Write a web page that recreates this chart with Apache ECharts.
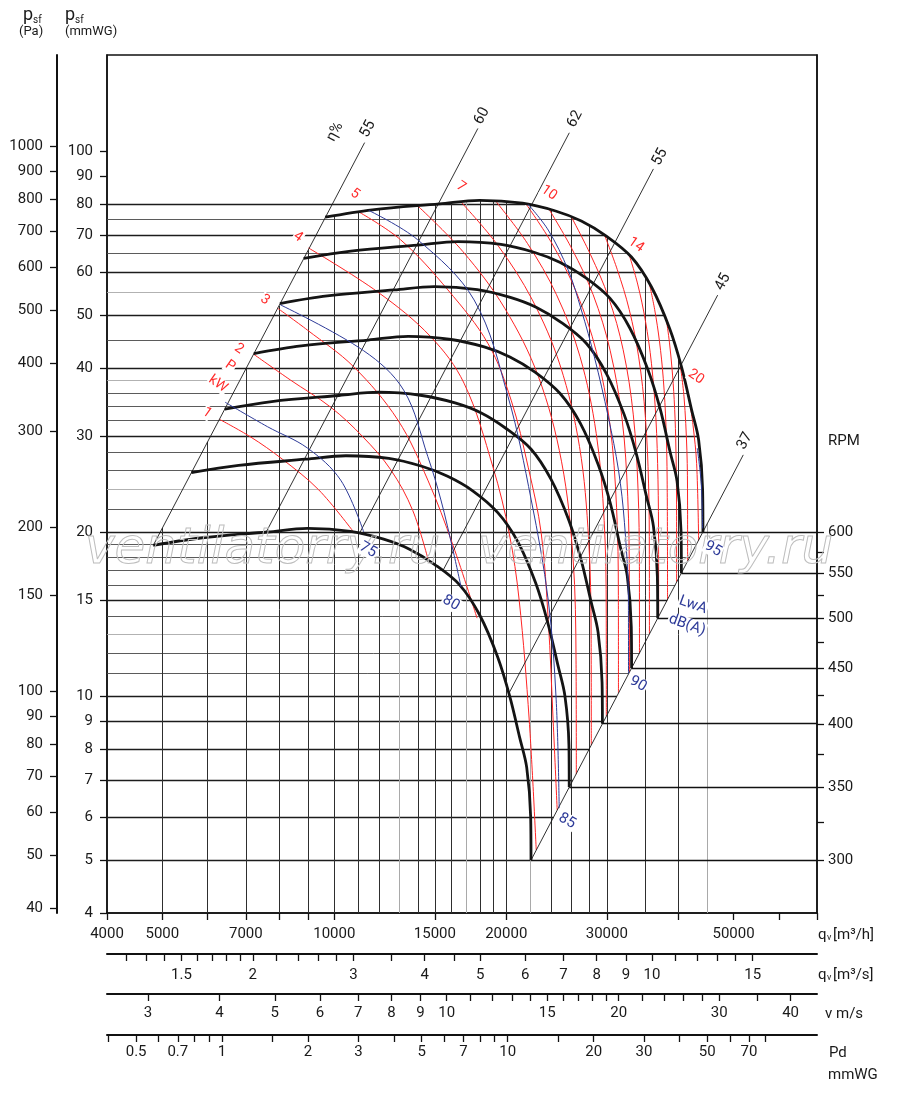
<!DOCTYPE html>
<html>
<head>
<meta charset="utf-8">
<title>Fan curve</title>
<script src="https://cdn.jsdelivr.net/npm/echarts/dist/echarts.min.js"></script>
<style>
  html, body { margin: 0; padding: 0; background: #fff; }
  #chart { width: 900px; height: 1093px; }
</style>
</head>
<body>
<div id="chart"></div>
<script>
// flow qv in m3/h, static pressure psf in mmWG
const rpmLevels = [300, 350, 400, 450, 500, 550, 600];

const curve300 = [[4820,18.9],[5830,19.5],[7640,20.0],[8980,20.3],[10680,20.05],[12200,19.4],[13540,18.6],[14970,17.45],[16570,16.0],[17960,14.1],[19320,11.8],[20280,10.0],[21110,8.4],[21720,7.4],[22070,6.0],[22100,5.0]];
const curve350 = [[5620,25.7],[6800,26.5],[8910,27.2],[10480,27.6],[12460,27.3],[14230,26.4],[15790,25.3],[17470,23.8],[19330,21.7],[20950,19.2],[22530,16.1],[23660,13.6],[24630,11.4],[25340,10.0],[25750,8.13],[25780,6.81]];
const curve400 = [[6430,33.6],[7770,34.7],[10190,35.6],[11970,36.1],[14240,35.6],[16270,34.5],[18050,33.1],[19960,31.0],[22090,28.4],[23950,25.0],[25750,21.0],[27040,17.8],[28150,14.9],[28960,13.1],[29430,10.6],[29470,8.9]];
const curve450 = [[7230,42.5],[8750,43.9],[11460,45.0],[13470,45.7],[16020,45.1],[18300,43.7],[20300,41.9],[22460,39.3],[24850,35.9],[26940,31.7],[28970,26.6],[30420,22.6],[31670,18.8],[32580,16.6],[33110,13.4],[33150,11.25]];
const curve500 = [[8030,52.5],[9720,54.2],[12730,55.6],[14970,56.4],[17800,55.7],[20330,53.9],[22560,51.7],[24950,48.5],[27610,44.4],[29930,39.1],[32190,32.8],[33800,27.8],[35180,23.3],[36200,20.5],[36780,16.6],[36830,13.9]];
const curve550 = [[8840,63.5],[10690,65.5],[14010,67.2],[16460,68.2],[19580,67.4],[22370,65.2],[24810,62.5],[27450,58.7],[30370,53.7],[32930,47.3],[35410,39.7],[37180,33.7],[38700,28.1],[39820,24.8],[40460,20.1],[40520,16.8]];
const curve600 = [[9640,75.6],[11660,78.0],[15280,80.0],[17960,81.2],[21360,80.2],[24400,77.6],[27070,74.4],[29940,69.8],[33130,63.9],[35920,56.3],[38630,47.3],[40560,40.1],[42220,33.5],[43440,29.5],[44140,23.9],[44200,20.0]];
const fanCurves = [curve300, curve350, curve400, curve450, curve500, curve550, curve600];

// efficiency lines (eta %)
const effValues = [55, 60, 62, 55, 45, 37];
const eff55a = [[4820,18.9],[11300,103.6]];
const eff60 = [[7600,20.0],[17840,110]];
const eff62 = [[11100,20.0],[25790,108]];
const eff55b = [[15500,17.0],[36200,92.7]];
const eff45 = [[20200,10.1],[46900,54.4]];
const eff37 = [[22100,5.0],[52000,27.7]];
const effLines = [eff55a, eff60, eff62, eff55b, eff45, eff37];

// absorbed power lines (kW)
const power1 = [[6290,32.2],[7130,29.9],[8110,27.2],[9390,23.9],[10770,20.1]];
const power2 = [[7220,42.4],[8380,38.0],[9850,33.9],[11220,29.9],[12560,26.0],[13720,21.9],[14640,17.6]];
const power3 = [[7950,51.5],[8980,46.9],[10810,40.2],[12920,32.1],[14580,24.9],[16140,18.9],[17780,13.9]];
const power4 = [[9010,66.4],[11920,55.1],[14760,45.6],[16870,37.5],[18960,26.3],[20240,19.9],[21070,15.0],[21940,9.04],[22570,5.22]];
const power5 = [[11040,77.3],[13070,68.7],[15810,55.6],[18590,44.3],[20400,34.9],[21850,26.3],[23030,19.9],[23690,13.8],[24160,9.04],[24560,6.18]];
const power6 = [[14000,79.3],[16790,65.4],[19870,51.5],[22760,38.6],[25000,26.9],[26180,17.9],[26500,11.6],[26530,7.19]];
const power7 = [[16670,80.6],[19340,67.1],[22220,53.3],[24840,40.5],[26870,28.7],[27880,19.4],[28160,12.9],[28180,8.13]];
const power8 = [[19190,80.8],[21780,67.7],[24490,54.5],[26920,42.0],[28750,30.3],[29680,21.0],[29930,14.2],[29940,9.19]];
const power9 = [[21670,79.9],[24080,67.5],[26570,54.9],[28750,42.9],[30380,31.5],[31200,22.2],[31430,15.3],[31440,10.13]];
const power10 = [[23780,78.1],[26070,66.1],[28390,54.5],[30400,43.1],[31910,32.2],[32640,23.2],[32850,16.3],[32860,11.07]];
const power11 = [[26000,75.7],[28100,64.5],[30220,53.8],[32040,43.2],[33380,32.8],[34020,24.0],[34210,17.3],[34220,12.0]];
const power12 = [[29710,70.2],[31290,60.6],[32830,51.2],[34110,41.9],[35040,32.6],[35500,24.5],[35610,18.2],[35620,13.0]];
const power13 = [[32860,64.3],[33970,57.0],[35040,48.9],[35920,40.7],[36560,32.4],[36870,25.0],[36960,19.0],[36970,14.0]];
const power14 = [[35630,57.0],[36380,51.2],[37090,44.8],[37670,38.2],[38080,31.3],[38260,24.9],[38320,15.0]];
const power15 = [[38170,48.8],[38610,44.6],[39010,40.0],[39360,35.0],[39600,29.7],[39740,22.5],[39750,16.2]];
const power16 = [[40230,41.3],[40950,35.4],[41430,28.2],[41540,22.8],[41550,17.7]];
const power17 = [[41890,34.7],[42480,31.3],[43090,26.7],[43440,19.3]];
const powerCurves = [power1, power2, power3, power4, power5, power6, power7, power8, power9,
  power10, power11, power12, power13, power14, power15, power16, power17];

// sound power LwA dB(A)
const lwa75 = [[6440,34.6],[7640,31.2],[8980,28.5],[10260,24.9],[11260,20.0]];
const lwa80 = [[8050,52.2],[11260,43.0],[13230,36.4],[14580,27.5],[15370,22.9],[16140,18.5],[16670,15.85]];
const lwa85 = [[11490,77.8],[14000,68.7],[17570,53.3],[20150,35.4],[22120,22.9],[23690,15.0],[24460,9.84],[24760,6.23]];
const lwa90 = [[21850,79.8],[23690,71.6],[25670,60.5],[27070,51.1],[28530,41.9],[30180,32.5],[31440,26.0],[32210,20.8],[32730,15.0],[32740,11.0]];
const lwa95 = [[43200,28.5],[43900,24.5],[44120,20.3]];
const lwaCurves = [lwa75, lwa80, lwa85, lwa90, lwa95];

// grid and scales
const hGrid = [5,6,7,8,9,10,11,12,13,14,15,16,17,18,19,20,22,24,26,28,30,32,34,36,38,40,45,50,55,60,65,70,75,80];
const hMajor = [5,6,7,8,9,10,15,20,30,40,50,60,70,80];
const hLight = [13,24,38,55];
const vGrid = [5000,6000,7000,8000,9000,10000,11000,12000,13000,14000,15000,16000,17000,18000,19000,20000,22000,24000,26000,28000,30000,35000,40000,45000];
const vLight = [13000,17000,22000,45000];

const qTicks = [4000,5000,6000,7000,8000,9000,10000,15000,20000,30000,40000,50000,60000,70000];
const qLabels = [4000,5000,7000,10000,15000,20000,30000,50000];
const qsTicks = [1.2,1.3,1.4,1.5,1.6,1.7,1.8,1.9,2,2.2,2.4,2.6,2.8,3,3.5,4,4.5,5,6,7,8,9,10,11,12,13,14,15];
const qsLabels = [1.5,2,3,4,5,6,7,8,9,10,15];
const vTicks = [3,4,5,6,7,8,9,10,11,12,13,14,15,16,17,18,19,20,22,24,26,28,30,35,40];
const vLabels = [3,4,5,6,7,8,9,10,15,20,30,40];
const pdTicks = [0.4,0.5,0.6,0.7,0.8,0.9,1,1.5,2,3,4,5,6,7,8,9,10,15,20,30,40,50,60,70,80];
const pdLabels = [0.5,0.7,1,2,3,5,7,10,20,30,50,70];
const mmTicks = [4,5,6,7,8,9,10,15,20,30,40,50,60,70,80,90,100];
const paTicks = [40,50,60,70,80,90,100,150,200,300,400,500,600,700,800,900,1000];
const rpmTicks = [300,325,350,375,400,425,450,475,500,525,550,575,600];
const rpmLabels = [300,350,400,450,500,550,600];

const qMin = 4000, qMax = 70000, pMin = 4, pMax = 150;
const outletArea = 0.437;          // m2, ties v to qv
const toPa = 9.80665;
const L = Math.log10;
const pts = arr => arr.map(d => [L(d[0]), L(d[1])]);
const last = arr => arr[arr.length - 1];
const vAt = q => q / 3600 / outletArea;
const pdAt = q => 1.2 * vAt(q) * vAt(q) / (2 * 9.81);
const rpmAt = p => rpmLevels[0] * Math.sqrt(p / last(curve300)[1]);
const fmt = v => String(parseFloat(Math.pow(10, v).toPrecision(4)));

function logInterp(x, x0, y0, x1, y1) {
  const t = (L(x) - L(x0)) / (L(x1) - L(x0));
  return Math.pow(10, L(y0) + t * (L(y1) - L(y0)));
}
function pOnCurve(c, q) {
  for (let i = 0; i < c.length - 1; i++) {
    if (q >= c[i][0] && q <= c[i + 1][0]) return logInterp(q, c[i][0], c[i][1], c[i + 1][0], c[i + 1][1]);
  }
  return null;
}
function qOnFalling(c, p) {
  let k = 0;
  c.forEach((d, i) => { if (d[1] > c[k][1]) k = i; });
  for (let i = k; i < c.length - 1; i++) {
    if (p <= c[i][1] && p >= c[i + 1][1]) return logInterp(p, c[i][1], c[i][0], c[i + 1][1], c[i + 1][0]);
  }
  return null;
}
const lineQ = (ln, p) => logInterp(p, ln[0][1], ln[0][0], ln[1][1], ln[1][0]);
const lineP = (ln, q) => logInterp(q, ln[0][0], ln[0][1], ln[1][0], ln[1][1]);

// grid lines stop at the operating envelope
const segs = [];
hGrid.forEach(p => {
  const qr = p >= last(curve600)[1] ? qOnFalling(curve600, p) : lineQ(eff37, p);
  if (!qr) return;
  const st = hLight.includes(p) ? { color: '#a9a9a9', width: 0.9 }
    : hMajor.includes(p) ? { color: '#1c1c1c', width: 1.3 } : { color: '#484848', width: 0.9 };
  segs.push({ coords: [[L(qMin), L(p)], [L(qr), L(p)]], lineStyle: st });
});
vGrid.forEach(q => {
  let pt;
  if (q < curve600[0][0]) pt = lineP(eff55a, q);
  else if (q <= last(curve600)[0]) pt = pOnCurve(curve600, q);
  else pt = lineP(eff37, q);
  const st = vLight.includes(q) ? { color: '#a9a9a9', width: 1 } : { color: '#2e2e2e', width: 1 };
  segs.push({ coords: [[L(q), L(pMin)], [L(q), L(pt)]], lineStyle: st });
});
fanCurves.forEach(c => {
  const e = last(c);
  segs.push({ coords: [[L(e[0]), L(e[1])], [L(qMax), L(e[1])]], lineStyle: { color: '#111', width: 1.3 } });
});

const series = [{
  type: 'lines', coordinateSystem: 'cartesian2d', polyline: false, silent: true, z: 1,
  lineStyle: { opacity: 1, color: '#333', width: 1 }, data: segs
}];
effLines.forEach(e => series.push({
  type: 'line', data: pts(e), symbol: 'none', silent: true, z: 3,
  lineStyle: { color: '#1a1a1a', width: 0.9 }
}));
powerCurves.forEach(c => series.push({
  type: 'line', data: pts(c), symbol: 'none', silent: true, smooth: 0.35, z: 2,
  lineStyle: { color: '#ff2424', width: 1 }
}));
lwaCurves.forEach(c => series.push({
  type: 'line', data: pts(c), symbol: 'none', silent: true, smooth: 0.35, z: 6,
  lineStyle: { color: '#2d3a98', width: 1 }
}));
fanCurves.forEach(c => series.push({
  type: 'line', data: pts(c), symbol: 'none', silent: true, smooth: 0.35, z: 5,
  lineStyle: { color: '#141414', width: 2.8 }
}));

function xAxisOf(offset, min, max, ticks, labels, margin) {
  return {
    type: 'value', gridIndex: 0, position: 'bottom', offset, min, max,
    axisLine: { show: true, onZero: false, lineStyle: { color: '#111', width: offset ? 2 : 1.5 } },
    axisTick: { show: true, inside: false, length: 7, customValues: ticks.map(L), lineStyle: { color: '#111', width: 1.3 } },
    axisLabel: { show: true, customValues: labels.map(L), formatter: fmt, margin, color: '#1a1a1a', fontSize: 15, fontFamily: 'Roboto' },
    splitLine: { show: false }
  };
}
function yAxisOf(position, offset, min, max, ticks, labels, margin) {
  return {
    type: 'value', gridIndex: 0, position, offset, min, max,
    axisLine: { show: true, onZero: false, lineStyle: { color: '#111', width: offset ? 2 : 1.5 } },
    axisTick: { show: true, inside: false, length: 7, customValues: ticks.map(L), lineStyle: { color: '#111', width: 1.3 } },
    axisLabel: { show: true, customValues: labels.map(L), formatter: fmt, margin, color: '#1a1a1a', fontSize: 15, fontFamily: 'Roboto' },
    splitLine: { show: false }
  };
}

function txt(x, y, text, o) {
  o = o || {};
  const style = {
    text, fill: o.color || '#1a1a1a', font: o.font || '15px Roboto',
    align: o.align || 'center', verticalAlign: 'middle'
  };
  if (o.bg) { style.backgroundColor = o.bg; style.padding = [0, 1]; }
  if (o.stroke) { style.stroke = o.stroke; style.lineWidth = 1; }
  return { type: 'text', x, y, z: o.z || 100, silent: true, rotation: (o.rot || 0) * Math.PI / 180, style };
}

const red = '#ff2a2a', blue = '#2d3a98';
const graphic = [
  // watermark
  txt(85, 550, 'ventilatorry.ru', { font: 'italic 50px "DejaVu Sans"', color: 'rgba(255,255,255,0)', stroke: '#bdbdbd', align: 'left', z: 60 }),
  txt(478, 550, 'ventilatorry.ru', { font: 'italic 50px "DejaVu Sans"', color: 'rgba(255,255,255,0)', stroke: '#bdbdbd', align: 'left', z: 60 }),
  // headers
  txt(23, 15, 'p', { font: '18px Roboto', align: 'left' }),
  txt(33, 20, 'sf', { font: '10px Roboto', align: 'left' }),
  txt(19, 32, '(Pa)', { font: '13px Roboto', align: 'left' }),
  txt(65, 15, 'p', { font: '18px Roboto', align: 'left' }),
  txt(75, 20, 'sf', { font: '10px Roboto', align: 'left' }),
  txt(65, 32, '(mmWG)', { font: '13px Roboto', align: 'left' }),
  txt(828, 441, 'RPM', { align: 'left' }),
  // bottom scale names
  txt(818, 935, 'q', { align: 'left' }), txt(827, 938, 'v', { font: '9px Roboto', align: 'left' }),
  txt(833, 935, '[m³/h]', { align: 'left' }),
  txt(818, 975, 'q', { align: 'left' }), txt(827, 978, 'v', { font: '9px Roboto', align: 'left' }),
  txt(833, 975, '[m³/s]', { align: 'left' }),
  txt(825, 1014, 'v m/s', { align: 'left' }),
  txt(829, 1053, 'Pd', { align: 'left' }),
  txt(828, 1075, 'mmWG', { align: 'left' })
];
// efficiency labels
[[368, 129, '55'], [335, 132, 'η%'], [482, 116, '60'], [575, 119, '62'], [660, 157, '55'], [723, 282, '45'], [745, 441, '37']]
  .forEach(d => graphic.push(txt(d[0], d[1], d[2], { rot: 62 })));
// power labels
[[207, 413, '1'], [239, 349, '2'], [265, 300, '3'], [298, 237, '4'], [355, 194, '5'], [461, 187, '7'],
 [549, 193, '10'], [636, 245, '14'], [696, 377, '20'], [230, 366, 'P'], [218, 384, 'kW']]
  .forEach(d => graphic.push(txt(d[0], d[1], d[2], { rot: -35, color: red, font: '14px Roboto', bg: '#fff' })));
// LwA labels
[[368, 550, '75'], [451, 603, '80'], [567, 821, '85'], [638, 684, '90'], [713, 549, '95']]
  .forEach(d => graphic.push(txt(d[0], d[1], d[2], { rot: -30, color: blue, bg: '#fff' })));
graphic.push(txt(693, 605, 'LwA', { rot: -20, color: blue, bg: '#fff' }));
graphic.push(txt(687, 625, 'dB(A)', { rot: -20, color: blue, bg: '#fff' }));

const option = {
  animation: false,
  backgroundColor: '#fff',
  grid: { left: 107, top: 55, width: 710, height: 858, show: true, borderColor: '#111', borderWidth: 1.5, backgroundColor: 'transparent' },
  xAxis: [
    xAxisOf(0, L(qMin), L(qMax), qTicks, qLabels, 14),
    xAxisOf(41, L(qMin / 3600), L(qMax / 3600), qsTicks, qsLabels, 14),
    xAxisOf(81, L(vAt(qMin)), L(vAt(qMax)), vTicks, vLabels, 12),
    xAxisOf(122, L(pdAt(qMin)), L(pdAt(qMax)), pdTicks, pdLabels, 10)
  ],
  yAxis: [
    yAxisOf('left', 0, L(pMin), L(pMax), mmTicks, mmTicks, 14),
    yAxisOf('left', 50, L(pMin * toPa), L(pMax * toPa), paTicks, paTicks, 14),
    yAxisOf('right', 0, L(rpmAt(pMin)), L(rpmAt(pMax)), rpmTicks, rpmLabels, 11)
  ],
  series,
  graphic
};

const chart = echarts.init(document.getElementById('chart'));
chart.setOption(option);
</script>
</body>
</html>
